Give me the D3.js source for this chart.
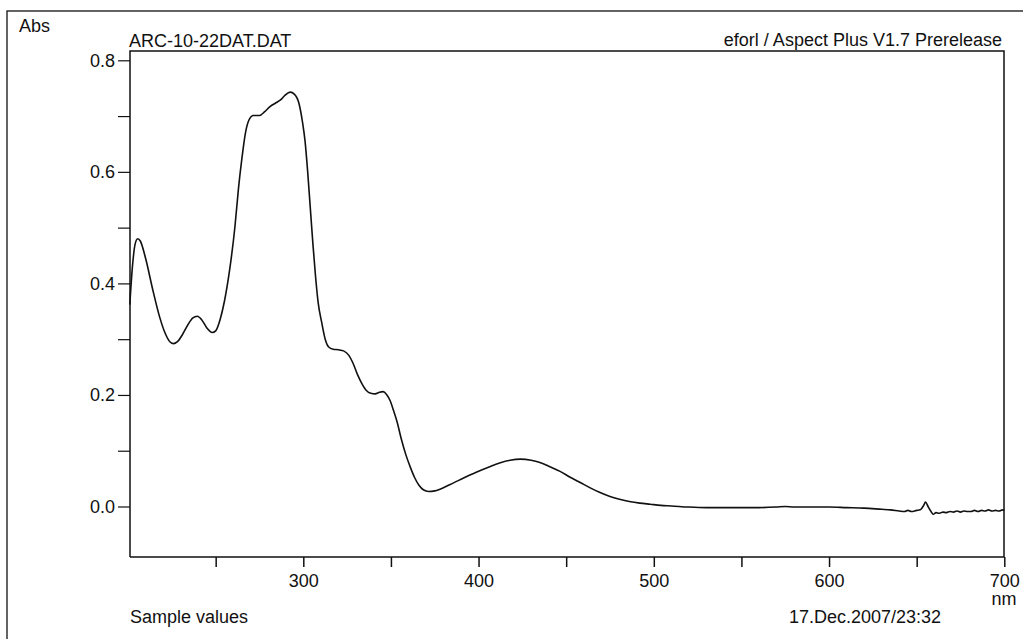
<!DOCTYPE html>
<html><head><meta charset="utf-8">
<script src="https://cdn.jsdelivr.net/npm/d3@7"></script>
<style>
html,body{margin:0;padding:0;background:#fff;}
svg{display:block;font-family:"Liberation Sans",Arial,Helvetica,sans-serif;}
</style></head>
<body>
<svg id="c" width="1023" height="639"></svg>
<script>
// Spectrum data (wavelength nm, absorbance)
const wavelengths = [201,202.5,204,205.5,207,210,214,218,221,224,226,228,231,234,237,239.5,242,245,248,250,252.5,255,258,261,263,265,267,269,271.5,275,278,281,284,287,289.5,292.5,295,297.5,299.5,301,302.5,304,305.5,307,308.5,310.5,312.5,314.5,317,320,323,326,328.5,331,333.5,336,338.5,341,343.5,345.5,347.5,349.5,351.5,353.5,356,358.5,361,363.5,366,368.5,371.5,375,378,383.5,390,399,406,412,418,424,430,435,441,446.5,452,458,464,469,475,481,486,492,498,504,510,520,530,540,550,560,570,575,580,590,600,610,620,630,635,640,643,645,647,650,652,654,655,656.5,658,659.5,661,663,665,667,669,671,673,675,677,679,681,683,685,687,689,691,693,695,697,699,700];
const absorbance = [0.362,0.43,0.47,0.480,0.476,0.445,0.390,0.340,0.312,0.295,0.292,0.295,0.308,0.325,0.338,0.341,0.335,0.320,0.312,0.315,0.335,0.368,0.425,0.502,0.570,0.625,0.670,0.693,0.701,0.701,0.708,0.717,0.723,0.729,0.737,0.743,0.739,0.723,0.690,0.655,0.600,0.535,0.470,0.412,0.365,0.330,0.300,0.286,0.282,0.281,0.279,0.271,0.256,0.236,0.220,0.208,0.203,0.202,0.205,0.206,0.201,0.190,0.172,0.152,0.120,0.093,0.071,0.052,0.038,0.030,0.027,0.028,0.031,0.039,0.049,0.062,0.071,0.078,0.083,0.085,0.083,0.079,0.071,0.063,0.053,0.043,0.033,0.0255,0.018,0.0125,0.009,0.006,0.004,0.002,0.001,-0.001,-0.002,-0.002,-0.002,-0.002,-0.001,0.000,-0.001,-0.001,-0.001,-0.002,-0.003,-0.005,-0.006,-0.008,-0.009,-0.007,-0.009,-0.007,-0.006,0.002,0.008,0.000,-0.008,-0.014,-0.011,-0.012,-0.010,-0.011,-0.009,-0.010,-0.008,-0.010,-0.008,-0.009,-0.009,-0.007,-0.009,-0.007,-0.008,-0.006,-0.008,-0.007,-0.008,-0.006,-0.007];

const xTickValues = [250,300,350,400,450,500,550,600,650,700];
const xTickLabels = ["","300","","400","","500","","600","","700"];
const yTickValues = [0,0.1,0.2,0.3,0.4,0.5,0.6,0.7,0.8];
const yTickLabels = ["0.0","","0.2","","0.4","","0.6","","0.8"];

(function(){
const svg = d3.select("#c");
const ink = "#111";
const pL = 130, pR = 1004, pT = 51, pB = 557;

const x = d3.scaleLinear().domain([300,700]).range([303.3,1004.3]);
const y = d3.scaleLinear().domain([0,0.8]).range([506.5,60.3]);

// outer border (only left/top visible)
svg.append("rect").attr("x",7).attr("y",11).attr("width",1100).attr("height",700)
  .attr("fill","none").attr("stroke",ink).attr("stroke-width",1.3);

// plot frame
svg.append("path")
  .attr("d",`M${pL},${pB}V${pT}H${pR}V${pB}H${pL}`)
  .attr("fill","none").attr("stroke",ink).attr("stroke-width",1.5);

// x axis
const xAxis = d3.axisBottom(x).tickValues(xTickValues)
  .tickFormat((d,i)=>xTickLabels[i]).tickSize(10).tickSizeOuter(0).tickPadding(7);
const gx = svg.append("g").attr("transform",`translate(0,${pB})`).call(xAxis);
gx.select(".domain").remove();
gx.selectAll(".tick line").attr("stroke",ink).attr("stroke-width",1.5);
gx.selectAll(".tick text").attr("fill",ink).style("font-size","18px")
  .style("font-family","'Liberation Sans',Arial,sans-serif");

// y axis
const yAxis = d3.axisLeft(y).tickValues(yTickValues)
  .tickFormat((d,i)=>yTickLabels[i]).tickSize(12).tickSizeOuter(0).tickPadding(3);
const gy = svg.append("g").attr("transform",`translate(${pL},0)`).call(yAxis);
gy.select(".domain").remove();
gy.selectAll(".tick line").attr("stroke",ink).attr("stroke-width",1.2);
gy.selectAll(".tick text").attr("fill",ink).style("font-size","18px")
  .style("font-family","'Liberation Sans',Arial,sans-serif");

// curve
const data = wavelengths.map((w,i)=>({w, a:absorbance[i]}));
const line = d3.line().x(d=>x(d.w)).y(d=>y(d.a)).curve(d3.curveMonotoneX);
svg.append("path").datum(data).attr("d",line)
  .attr("fill","none").attr("stroke",ink).attr("stroke-width",1.6)
  .attr("stroke-linejoin","round");

// texts
const t = (tx,ty,s,anchor)=>svg.append("text").attr("x",tx).attr("y",ty)
  .attr("text-anchor",anchor||"start").attr("fill",ink).style("font-size","18px").text(s);
t(19,32,"Abs");
t(129,47,"ARC-10-22DAT.DAT");
t(1002,46,"eforl / Aspect Plus V1.7 Prerelease","end");
t(130,623,"Sample values");
t(941,623,"17.Dec.2007/23:32","end");
t(1004,605,"nm","middle");
})();
</script>
</body></html>
